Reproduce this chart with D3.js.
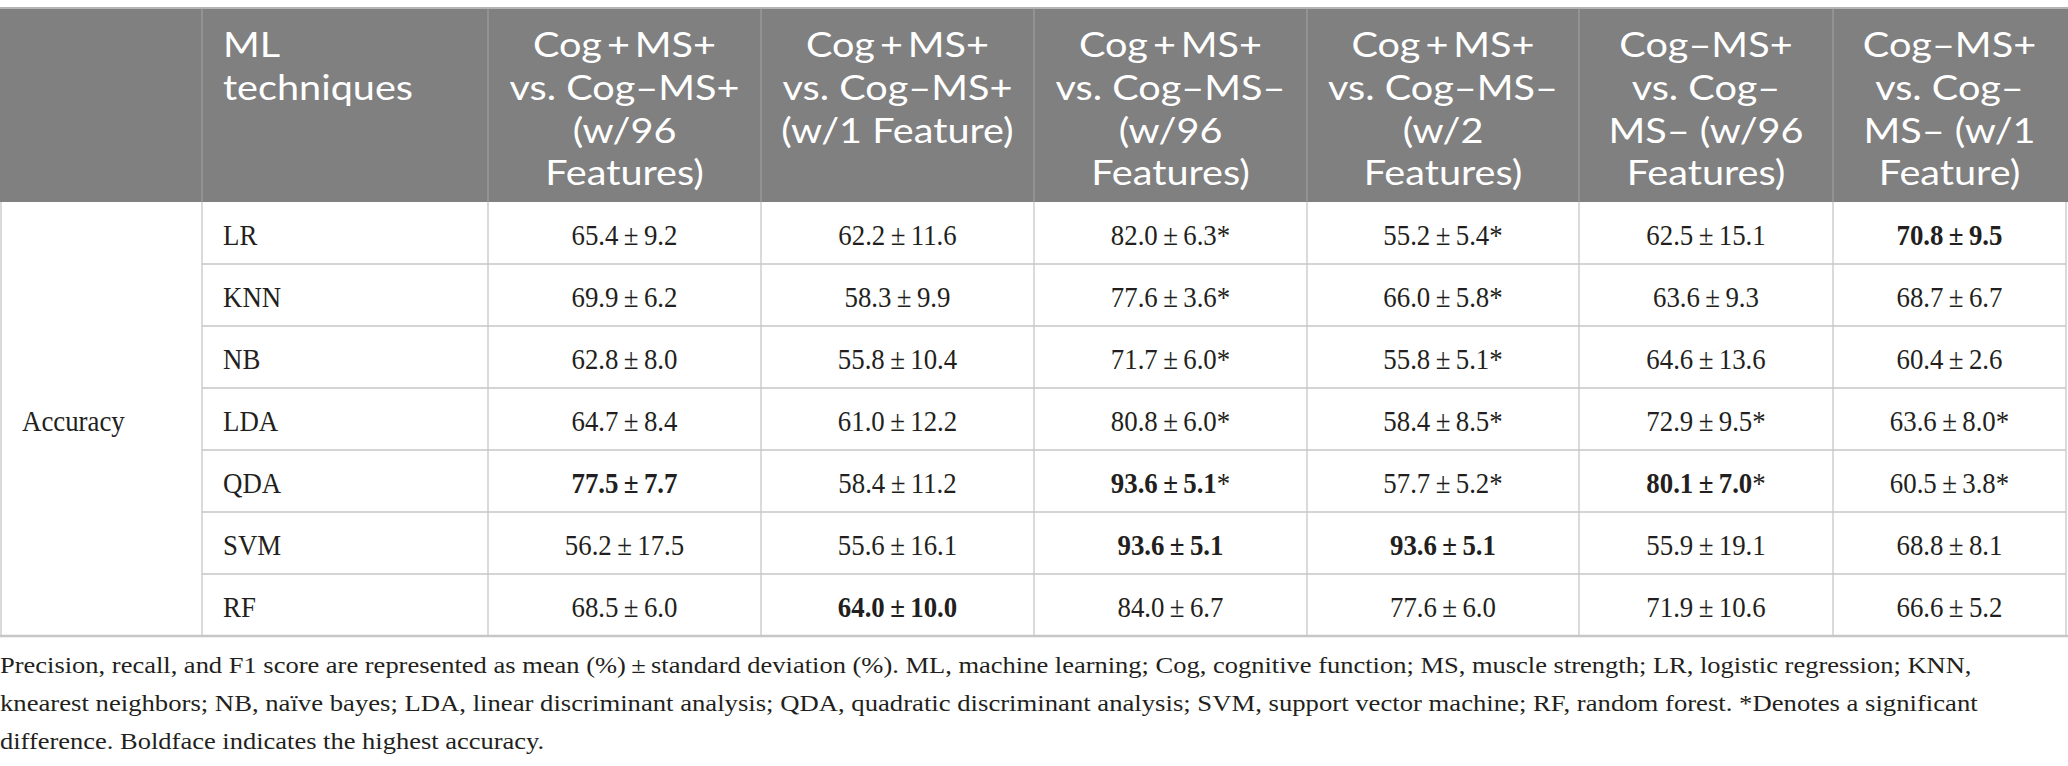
<!DOCTYPE html>
<html><head><meta charset="utf-8">
<script src="https://cdn.jsdelivr.net/npm/d3@7"></script>
<style>body{margin:0;background:#fff}svg{display:block}</style>
</head><body>
<svg id="chart" width="2068" height="766"></svg>
<script>
// ---- data ----
const rowGroup = "Accuracy";
const methodHeader = ["ML", "techniques"];
const methods = ["LR", "KNN", "NB", "LDA", "QDA", "SVM", "RF"];
const comparisons = [
  ["Cog\u2009+\u2009MS+", "vs. Cog\u2013MS+", "(w/96", "Features)"],
  ["Cog\u2009+\u2009MS+", "vs. Cog\u2013MS+", "(w/1 Feature)"],
  ["Cog\u2009+\u2009MS+", "vs. Cog\u2013MS\u2013", "(w/96", "Features)"],
  ["Cog\u2009+\u2009MS+", "vs. Cog\u2013MS\u2013", "(w/2", "Features)"],
  ["Cog\u2013MS+", "vs. Cog\u2013", "MS\u2013 (w/96", "Features)"],
  ["Cog\u2013MS+", "vs. Cog\u2013", "MS\u2013 (w/1", "Feature)"]
];
const means = [
  [65.4, 62.2, 82.0, 55.2, 62.5, 70.8],
  [69.9, 58.3, 77.6, 66.0, 63.6, 68.7],
  [62.8, 55.8, 71.7, 55.8, 64.6, 60.4],
  [64.7, 61.0, 80.8, 58.4, 72.9, 63.6],
  [77.5, 58.4, 93.6, 57.7, 80.1, 60.5],
  [56.2, 55.6, 93.6, 93.6, 55.9, 68.8],
  [68.5, 64.0, 84.0, 77.6, 71.9, 66.6]
];
const sds = [
  [9.2, 11.6, 6.3, 5.4, 15.1, 9.5],
  [6.2, 9.9, 3.6, 5.8, 9.3, 6.7],
  [8.0, 10.4, 6.0, 5.1, 13.6, 2.6],
  [8.4, 12.2, 6.0, 8.5, 9.5, 8.0],
  [7.7, 11.2, 5.1, 5.2, 7.0, 3.8],
  [17.5, 16.1, 5.1, 5.1, 19.1, 8.1],
  [6.0, 10.0, 6.7, 6.0, 10.6, 5.2]
];
const significant = [
  [0, 0, 1, 1, 0, 0],
  [0, 0, 1, 1, 0, 0],
  [0, 0, 1, 1, 0, 0],
  [0, 0, 1, 1, 1, 1],
  [0, 0, 1, 1, 1, 1],
  [0, 0, 0, 0, 0, 0],
  [0, 0, 0, 0, 0, 0]
];
const highest = [
  [0, 0, 0, 0, 0, 1],
  [0, 0, 0, 0, 0, 0],
  [0, 0, 0, 0, 0, 0],
  [0, 0, 0, 0, 0, 0],
  [1, 0, 1, 0, 1, 0],
  [0, 0, 1, 1, 0, 0],
  [0, 1, 0, 0, 0, 0]
];
const footnote = [
  "Precision, recall, and F1 score are represented as mean (%)\u2009\u00b1\u2009standard deviation (%). ML, machine learning; Cog, cognitive function; MS, muscle strength; LR, logistic regression; KNN,",
  "knearest neighbors; NB, na\u00efve bayes; LDA, linear discriminant analysis; QDA, quadratic discriminant analysis; SVM, support vector machine; RF, random forest. *Denotes a significant",
  "difference. Boldface indicates the highest accuracy."
];

// ---- layout ----
const colEdges = [0, 202, 488, 761, 1034, 1307, 1579, 1833, 2066];
const headTop = 8, headBottom = 202, bodyBottom = 636;
const serif = "'Liberation Serif','Times New Roman',serif";
const sans = "Lato,'Open Sans',sans-serif";
const ink = "#231f20";

const svg = d3.select("#chart");
const y = d3.scaleBand().domain(methods).range([headBottom, bodyBottom]);
const colX = d3.scaleOrdinal().domain(d3.range(colEdges.length - 1)).range(colEdges.slice(0, -1));
const colW = i => colEdges[i + 1] - colEdges[i];

function measure(str, font, size, weight) {
  const t = svg.append("text").attr("font-family", font).attr("font-size", size)
    .attr("font-weight", weight || "normal").text(str);
  const w = t.node().getComputedTextLength();
  t.remove();
  return w;
}
const headSize = 35, bodySize = 30, footSize = 23;
const kHead = 230 / measure(comparisons[0][1], sans, headSize);
const kBody = 106 / measure("65.4\u2009\u00b1\u20099.2", serif, bodySize);
const kFoot1 = 1973 / measure(footnote[0], serif, footSize);
const kFoot2 = 1978 / measure(footnote[1], serif, footSize);
const kFoot = [kFoot1, kFoot2, kFoot1];
const place = (x, yy, k) => `translate(${x},${yy}) scale(${k},1)`;

// header
svg.append("rect").attr("x", 0).attr("y", headTop).attr("width", 2068).attr("height", headBottom - headTop).attr("fill", "#808080");
svg.append("g").selectAll("line").data(colEdges.slice(1, -1)).join("line")
  .attr("x1", d => d).attr("x2", d => d).attr("y1", headTop).attr("y2", headBottom)
  .attr("stroke", "#9c9c9c").attr("stroke-width", 1.3);

const lh = 42.8, firstBase = 57;
svg.append("g").selectAll("text").data(methodHeader).join("text")
  .attr("font-family", sans).attr("font-size", headSize).attr("fill", "#fff")
  .attr("transform", (d, i) => place(colEdges[1] + 21, firstBase + i * lh, kHead)).text(d => d);
comparisons.forEach((lines, c) => {
  const cx = colX(c + 2) + colW(c + 2) / 2;
  svg.append("g").selectAll("text").data(lines).join("text")
    .attr("font-family", sans).attr("font-size", headSize).attr("fill", "#fff").attr("text-anchor", "middle")
    .attr("transform", (d, i) => place(cx, firstBase + i * lh, kHead)).text(d => d);
});

// body grid
const grid = svg.append("g").attr("stroke", "#c6c6c6").attr("stroke-width", 1.3);
grid.selectAll("line.h").data(methods.slice(1)).join("line").attr("class", "h")
  .attr("x1", colEdges[1]).attr("x2", colEdges[colEdges.length - 1])
  .attr("y1", d => y(d)).attr("y2", d => y(d));
grid.selectAll("line.v").data(colEdges).join("line").attr("class", "v")
  .attr("x1", d => d === 0 ? 1 : d).attr("x2", d => d === 0 ? 1 : d)
  .attr("y1", headBottom).attr("y2", bodyBottom);
svg.append("line").attr("x1", 0).attr("x2", 2068).attr("y1", headTop).attr("y2", headTop).attr("stroke", "#b4b4b4").attr("stroke-width", 2);
svg.append("line").attr("x1", 0).attr("x2", 2068).attr("y1", bodyBottom).attr("y2", bodyBottom).attr("stroke", "#c6c6c6").attr("stroke-width", 2.5);

const baseOff = 12;
svg.append("text").attr("font-family", serif).attr("font-size", bodySize).attr("fill", ink)
  .attr("transform", place(22, (headBottom + bodyBottom) / 2 + baseOff, kBody)).text(rowGroup);

svg.append("g").selectAll("text").data(methods).join("text")
  .attr("font-family", serif).attr("font-size", bodySize).attr("fill", ink)
  .attr("transform", d => place(colEdges[1] + 21, y(d) + y.bandwidth() / 2 + baseOff, kBody)).text(d => d);

const cells = [];
methods.forEach((m, r) => means[r].forEach((v, c) => cells.push({ m, r, c, v, sd: sds[r][c], sig: significant[r][c], bold: highest[r][c] })));
const cellText = svg.append("g").selectAll("text").data(cells).join("text")
  .attr("font-family", serif).attr("font-size", bodySize).attr("fill", ink).attr("text-anchor", "middle")
  .attr("transform", d => place(colX(d.c + 2) + colW(d.c + 2) / 2, y(d.m) + y.bandwidth() / 2 + baseOff, kBody));
cellText.append("tspan").attr("font-weight", d => d.bold ? "bold" : "normal")
  .text(d => d3.format(".1f")(d.v) + "\u2009\u00b1\u2009" + d3.format(".1f")(d.sd));
cellText.filter(d => d.sig).append("tspan").text("*");

// footnote
svg.append("g").selectAll("text").data(footnote).join("text")
  .attr("font-family", serif).attr("font-size", footSize).attr("fill", ink)
  .attr("transform", (d, i) => place(0, 673 + i * 38, kFoot[i])).text(d => d);
</script>
</body></html>
